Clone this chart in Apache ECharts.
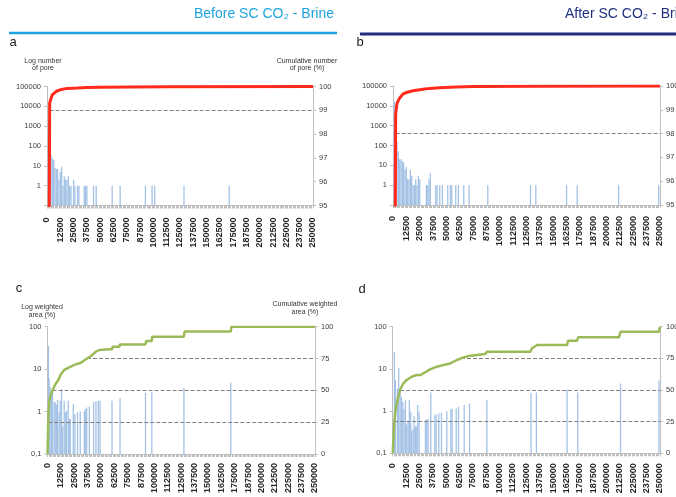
<!DOCTYPE html>
<html lang="en">
<head>
    <meta charset="UTF-8"/>
    <title>Pore distribution before / after SC CO2 - Brine</title>
    <script src="https://cdn.jsdelivr.net/npm/echarts@6/dist/echarts.min.js"></script>
</head>
<body style="margin:0">

<div id="main" style="width:676px; height:497px;"></div>

<script type="text/javascript">

    // x axis (pore size bins)
    var xMax = 250000;
    var xStep = 12500;

    // a : before, number of pores per bin (log) + cumulative %
    var beforePoreX = [2500, 3750, 5000, 6250, 7500, 8750, 10000, 11250, 12500, 13750,
        15000, 16250, 17500, 18750, 20000, 21250, 22500, 25000, 26250, 28750, 30000,
        35000, 36250, 37500, 43750, 46250, 61250, 68750, 92500, 98750, 101250, 128750, 171250];
    var beforePoreCount = [112, 35, 24, 20, 8, 7, 7, 2, 5, 9,
        1, 3, 2, 2, 3, 1, 1, 2, 1, 1, 1,
        1, 1, 1, 1, 1, 1, 1, 1, 1, 1, 1, 1];
    var beforePoreCumX = [1250, 2500, 3750, 5000, 6250, 8750, 12500, 18750, 28750, 37500, 50000, 81250, 112500, 250000];
    var beforePoreCum = [85, 99.3, 99.5, 99.65, 99.72, 99.8, 99.86, 99.92, 99.94, 99.96, 99.97, 99.98, 99.99, 100];

    // b : after
    var afterPoreX = [1250, 3750, 5000, 6250, 7500, 8750, 10000, 11250, 12500, 13750,
        15000, 16250, 17500, 18750, 20000, 21250, 22500, 23750, 25000,
        31250, 32500, 33750, 35000, 40000, 41250, 43750, 46250,
        51250, 53750, 55000, 58750, 61250, 66250, 71250, 88750,
        128750, 133750, 162500, 172500, 211250, 248750];
    var afterPoreCount = [16000, 150, 52, 20, 20, 16, 14, 6, 8, 2,
        2, 6, 3, 1, 1, 2, 1, 3, 2,
        1, 1, 2, 4, 1, 1, 1, 1,
        1, 1, 1, 1, 1, 1, 1, 1,
        1, 1, 1, 1, 1, 1];
    var afterPoreCumX = [1250, 2500, 3750, 6250, 9375, 12500, 18750, 28125, 34375, 43750, 59375, 75000, 137500, 250000];
    var afterPoreCum = [85, 98.83, 99.27, 99.5, 99.66, 99.73, 99.8, 99.86, 99.9, 99.93, 99.96, 99.98, 99.99, 100];

    // c : before, weighted area % (log) + cumulative %
    var beforeAreaX = [900, 1600, 2500, 3750, 4700, 6250, 7200, 8400, 9400, 10900,
        11900, 13100, 14100, 15600, 16600, 17800, 19400, 20300, 21300,
        24100, 25600, 28100, 30600, 34400, 35300, 36600, 39100,
        43100, 45300, 47500, 49100, 60300, 67800, 91600, 97500, 127500, 171300];
    var beforeArea = [35, 6, 3.8, 3.2, 2.8, 1.65, 1.65, 1.45, 1.9, 0.96,
        1.8, 3.4, 0.45, 1.8, 0.95, 1.05, 1.8, 0.67, 0.67,
        1.5, 0.88, 0.95, 1.0, 1.0, 1.15, 1.25, 1.3,
        1.65, 1.75, 1.8, 1.8, 1.8, 2.1, 2.75, 2.9, 3.6, 4.8];
    var beforeAreaCumX = [0, 900, 1600, 2500, 3750, 5000, 6250, 7500, 8750, 10000,
        12500, 15600, 20300, 25000, 31250, 35900, 40600, 45300, 48400, 57800,
        60300, 60900, 67200, 67800, 91600, 92200, 97500, 97800, 127500, 128100,
        171300, 171900, 250000];
    var beforeAreaCum = [0, 32, 41, 45, 48, 50.5, 53, 55, 56.5, 58,
        62.6, 66, 68, 70, 71.7, 74.4, 77, 80.4, 81.7, 82.2,
        82.2, 84.3, 84.3, 86.1, 86.1, 88.8, 88.8, 92.2, 92.2, 96.2,
        96.2, 100, 100];

    // d : after
    var afterAreaX = [1600, 2500, 4400, 5600, 6900, 8100, 9400, 10600, 11900, 13100,
        14400, 15600, 16900, 17800, 19100, 20000, 21250, 22500, 23400, 24700,
        30600, 31900, 33100, 35600, 39400, 40600, 43100, 45600,
        50600, 54400, 55600, 59400, 61600, 66900, 71900, 88100,
        129400, 134400, 163100, 173100, 213100, 249000];
    var afterArea = [25, 5.4, 3.4, 10.7, 2.6, 2.2, 1.66, 1.1, 1.8, 0.48,
        0.56, 1.8, 0.96, 0.34, 0.37, 0.76, 0.43, 0.44, 1.4, 0.93,
        0.61, 0.63, 0.65, 2.75, 0.8, 0.83, 0.88, 0.91,
        1.0, 1.1, 1.13, 1.15, 1.27, 1.39, 1.5, 1.8,
        2.7, 2.75, 3.25, 2.75, 4.5, 5.3];
    var afterAreaCumX = [0, 1600, 2500, 4400, 5300, 6900, 10000, 13100, 17800, 22500,
        26000, 28750, 35000, 41250, 47500, 53750, 60000, 66250, 70900, 86600,
        88100, 128750, 130300, 135000, 163100, 164000, 172500, 173400, 211600, 213100,
        249000, 250000];
    var afterAreaCum = [0, 26, 33, 42, 44.7, 50, 55.3, 57.9, 60.5, 61.8,
        61.8, 63.2, 66.3, 68.4, 69.7, 71, 73.7, 75.8, 76.8, 78.4,
        80.3, 80.3, 83, 85.5, 85.5, 89, 89, 91.6, 91.6, 96,
        96, 100];

    // reference (dashed) levels on the cumulative axis
    var poreLevelBefore = [99];
    var poreLevelAfter = [98];
    var areaLevels = [25, 50, 75];

    var myChart = echarts.init(document.getElementById('main'));

    function zip(xs, ys) {
        var out = [];
        for (var i = 0; i < xs.length; i++) out.push([xs[i], ys[i]]);
        return out;
    }

    // x where the cumulative curve first reaches a level
    function crossAt(xs, ys, level) {
        for (var i = 0; i < ys.length; i++) {
            if (ys[i] >= level) {
                if (i === 0) return xs[0];
                var t = (level - ys[i - 1]) / (ys[i] - ys[i - 1]);
                return xs[i - 1] + t * (xs[i] - xs[i - 1]);
            }
        }
        return xs[xs.length - 1];
    }

    function thinBar(params, api) {
        var top = api.coord([api.value(0), api.value(1)]);
        var base = api.coord([api.value(0), 0.1]);
        return {
            type: 'rect',
            shape: {x: top[0] - 0.65, y: top[1], width: 1.3, height: base[1] - top[1]},
            style: {fill: '#a4c2e6'}
        };
    }

    var grey = '#bfbfbf';
    var grids = [], xAxes = [], yAxes = [], series = [];

    function addPanel(box, labelGap, bars, cum, lineColor, lineWidth, rightMin, rightInterval, logMax, levels, logFmt) {
        var i = grids.length;
        grids.push({left: box[0], top: box[1], width: box[2], height: box[3], outerBoundsMode: 'none', containLabel: false});
        xAxes.push({
            gridIndex: i, type: 'value', min: 0, max: xMax, interval: xStep,
            axisLine: {lineStyle: {color: grey}},
            axisTick: {show: true, length: 3, lineStyle: {color: grey}},
            minorTick: {show: true, splitNumber: 10, length: 3, lineStyle: {color: grey}},
            splitLine: {show: false},
            axisLabel: {rotate: 90, fontSize: 9, fontWeight: 'bold', color: '#262626', margin: labelGap,
                fontFamily: 'Liberation Sans', showMinLabel: true, showMaxLabel: true,
                formatter: function (v) { return String(v); }}
        });
        yAxes.push({
            gridIndex: i, type: 'log', logBase: 10, min: 0.1, max: logMax, position: 'left',
            axisLine: {show: true, lineStyle: {color: grey}},
            axisTick: {show: true, length: 3, lineStyle: {color: grey}},
            splitLine: {show: false},
            axisLabel: {fontSize: 7.5, color: '#404040', margin: 6, fontFamily: 'Liberation Sans', formatter: logFmt}
        });
        yAxes.push({
            gridIndex: i, type: 'value', min: rightMin, max: 100, interval: rightInterval, position: 'right',
            axisLine: {show: true, lineStyle: {color: grey}},
            axisTick: {show: true, length: 3, lineStyle: {color: grey}},
            splitLine: {show: false},
            axisLabel: {fontSize: 7.5, color: '#404040', margin: 6, fontFamily: 'Liberation Sans'}
        });
        series.push({
            type: 'custom', xAxisIndex: i, yAxisIndex: 2 * i, renderItem: thinBar,
            data: zip(bars[0], bars[1]), clip: true, z: 2, silent: true
        });
        series.push({
            type: 'line', xAxisIndex: i, yAxisIndex: 2 * i + 1,
            data: zip(cum[0], cum[1]), symbol: 'none', clip: true, z: 4, silent: true,
            lineStyle: {color: lineColor, width: lineWidth},
            markLine: {
                silent: true, symbol: 'none', z: 3,
                label: {show: false},
                lineStyle: {type: 'dashed', color: '#808080', width: 1},
                data: levels.map(function (l) {
                    return [{coord: [crossAt(cum[0], cum[1], l), l]}, {coord: [xMax, l]}];
                })
            }
        });
    }

    var countFmt = function (v) { return v < 0.5 ? '' : String(Math.round(v)); };
    var areaFmt = function (v) { return v < 0.5 ? '0,1' : String(Math.round(v)); };

    addPanel([47, 86.5, 266, 119], 12, [beforePoreX, beforePoreCount], [beforePoreCumX, beforePoreCum],
        '#ff2a1c', 3, 95, 1, 100000, poreLevelBefore, countFmt);
    addPanel([393, 86, 267, 119], 11, [afterPoreX, afterPoreCount], [afterPoreCumX, afterPoreCum],
        '#ff2a1c', 3, 95, 1, 100000, poreLevelAfter, countFmt);
    addPanel([47.5, 326.7, 267.5, 127.3], 9, [beforeAreaX, beforeArea], [beforeAreaCumX, beforeAreaCum],
        '#9bbb59', 2.5, 0, 25, 100, areaLevels, areaFmt);
    addPanel([392.7, 326.7, 267.3, 126.6], 10, [afterAreaX, afterArea], [afterAreaCumX, afterAreaCum],
        '#9bbb59', 2.5, 0, 25, 100, areaLevels, areaFmt);

    function txt(s, x, y, font, fill, align) {
        return {type: 'text', x: x, y: y, silent: true,
            style: {text: s, font: font, fill: fill, align: align || 'center', verticalAlign: 'top', lineHeight: 7.5}};
    }

    var smallFont = '7px "Liberation Sans"';
    var graphics = [
        txt('Before SC CO\u2082 - Brine', 334, 10, '14px "Liberation Sans"', '#1fa3de', 'right'),
        {type: 'line', silent: true, shape: {x1: 9, y1: 33, x2: 337, y2: 33}, style: {stroke: '#1fa3de', lineWidth: 2.5}},
        txt('After SC CO\u2082 - Brine', 565, 10, '14px "Liberation Sans"', '#1f2f7d', 'left'),
        {type: 'line', silent: true, shape: {x1: 360, y1: 34, x2: 676, y2: 34}, style: {stroke: '#1f2f7d', lineWidth: 3}},
        txt('a', 13, 39, '13px "Liberation Sans"', '#1a1a1a'),
        txt('b', 360, 39, '13px "Liberation Sans"', '#1a1a1a'),
        txt('c', 19, 285, '13px "Liberation Sans"', '#1a1a1a'),
        txt('d', 362, 286, '13px "Liberation Sans"', '#1a1a1a'),
        txt('Log number\nof pore', 43, 57, smallFont, '#333333'),
        txt('Cumulative number\nof pore (%)', 307, 57, smallFont, '#333333'),
        txt('Log weighted\narea (%)', 42, 303.5, smallFont, '#333333'),
        txt('Cumulative weighted\narea (%)', 305, 300.5, smallFont, '#333333')
    ];

    var option = {
        animation: false,
        backgroundColor: '#ffffff',
        textStyle: {fontFamily: 'Liberation Sans'},
        grid: grids,
        xAxis: xAxes,
        yAxis: yAxes,
        series: series,
        graphic: graphics
    };

    myChart.setOption(option);
</script>

</body>
</html>
